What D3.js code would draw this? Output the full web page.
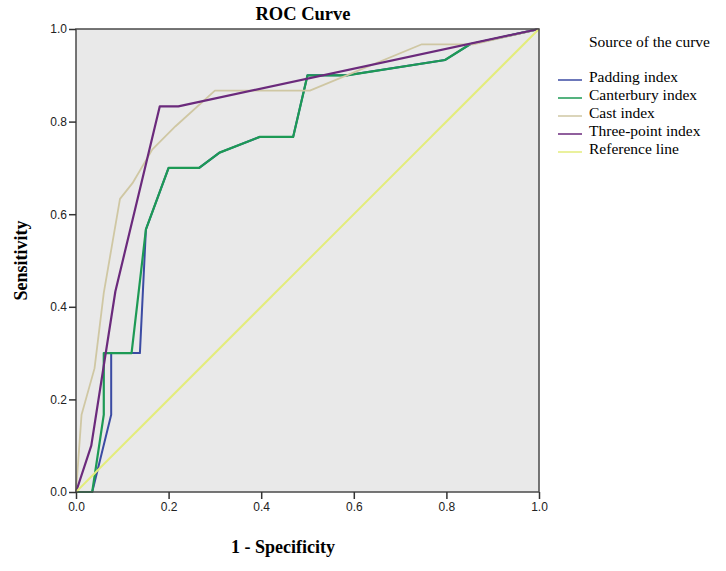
<!DOCTYPE html>
<html>
<head>
<meta charset="utf-8">
<script src="https://cdn.jsdelivr.net/npm/d3@7"></script>
<style>
  body { margin: 0; background: #fff; }
  svg { display: block; }
</style>
</head>
<body>
<svg id="chart"></svg>
<script>
// ROC points, [1 - specificity, sensitivity]
const paddingIndex = [[0, 0], [0.035, 0], [0.076, 0.167], [0.076, 0.3], [0.138, 0.3], [0.151, 0.567],
  [0.2, 0.7], [0.266, 0.7], [0.31, 0.733], [0.397, 0.767], [0.469, 0.767], [0.5, 0.9], [0.585, 0.9],
  [0.797, 0.933], [0.851, 0.967], [1, 1]];
const canterburyIndex = [[0, 0], [0.035, 0], [0.06, 0.167], [0.06, 0.3], [0.12, 0.3], [0.151, 0.567],
  [0.2, 0.7], [0.266, 0.7], [0.31, 0.733], [0.397, 0.767], [0.469, 0.767], [0.5, 0.9], [0.585, 0.9],
  [0.797, 0.933], [0.851, 0.967], [1, 1]];
const castIndex = [[0, 0], [0.012, 0.167], [0.04, 0.267], [0.06, 0.43], [0.095, 0.633], [0.122, 0.667],
  [0.165, 0.74], [0.215, 0.79], [0.3, 0.867], [0.505, 0.867], [0.747, 0.967], [0.858, 0.967], [1, 1]];
const threePointIndex = [[0, 0], [0.033, 0.1], [0.085, 0.433], [0.181, 0.833], [0.221, 0.833], [1, 1]];
const referenceLine = [[0, 0], [1, 1]];

const seriesNames = ["Padding index", "Canterbury index", "Cast index", "Three-point index", "Reference line"];
const seriesColors = ["#3b4ba3", "#1d9a55", "#cfc7a3", "#6b2a7c", "#e3ec7c"];
const axisTicks = [0, 0.2, 0.4, 0.6, 0.8, 1.0];

class RocChart {
  margin = { top: 29, right: 187, bottom: 79, left: 76 }

  constructor(svg, width = 463, height = 463) {
    this.svg = svg;
    this.width = width;
    this.height = height;
  }

  initialize() {
    this.svg = d3.select(this.svg)
      .attr("width", 726)
      .attr("height", 571);
    this.container = this.svg.append("g")
      .attr("transform", `translate(${this.margin.left}, ${this.margin.top})`);
    this.xScale = d3.scaleLinear().domain([0, 1]).range([0, this.width]);
    this.yScale = d3.scaleLinear().domain([0, 1]).range([this.height, 0]);
  }

  update(series) {
    const serif = "'Liberation Serif', 'DejaVu Serif', serif";

    this.container.append("rect")
      .attr("width", this.width)
      .attr("height", this.height)
      .attr("fill", "#e9e9e9");

    const line = d3.line()
      .x(d => this.xScale(d[0]))
      .y(d => this.yScale(d[1]));

    this.container.selectAll("path.curve")
      .data(series)
      .join("path")
      .attr("class", "curve")
      .attr("d", d => line(d.values))
      .attr("fill", "none")
      .attr("stroke", d => d.color)
      .attr("stroke-width", d => d.width)
      .attr("stroke-linejoin", "round");

    this.container.append("rect")
      .attr("width", this.width)
      .attr("height", this.height)
      .attr("fill", "none")
      .attr("stroke", "#4a4a4a")
      .attr("stroke-width", 1.5);

    const xAxis = this.container.append("g")
      .attr("transform", `translate(0, ${this.height})`)
      .call(d3.axisBottom(this.xScale).tickValues(axisTicks).tickFormat(d3.format(".1f"))
        .tickSize(7).tickPadding(3));
    const yAxis = this.container.append("g")
      .call(d3.axisLeft(this.yScale).tickValues(axisTicks).tickFormat(d3.format(".1f"))
        .tickSize(7).tickPadding(2));
    [xAxis, yAxis].forEach(a => {
      a.select(".domain").remove();
      a.selectAll("line").attr("stroke", "#333").attr("stroke-width", 1.5);
      a.selectAll("text")
        .attr("fill", "#222")
        .style("font-family", "'Liberation Sans', Arial, sans-serif")
        .style("font-size", "12px");
    });

    this.svg.append("text")
      .attr("x", 303)
      .attr("y", 20)
      .attr("text-anchor", "middle")
      .style("font-family", serif)
      .style("font-size", "18.5px")
      .style("font-weight", "bold")
      .text("ROC Curve");

    this.svg.append("text")
      .attr("x", 283)
      .attr("y", 553)
      .attr("text-anchor", "middle")
      .style("font-family", serif)
      .style("font-size", "18px")
      .style("font-weight", "bold")
      .text("1 - Specificity");

    this.svg.append("text")
      .attr("transform", `translate(27, ${this.margin.top + this.height / 2}) rotate(-90)`)
      .attr("text-anchor", "middle")
      .style("font-family", serif)
      .style("font-size", "18px")
      .style("font-weight", "bold")
      .text("Sensitivity");

    // legend
    this.legend = this.svg.append("g").attr("transform", "translate(558, 0)");
    this.legend.append("text")
      .attr("x", 31)
      .attr("y", 47)
      .style("font-family", serif)
      .style("font-size", "15.5px")
      .text("Source of the curve");

    const items = this.legend.selectAll("g.item")
      .data(series)
      .join("g")
      .attr("class", "item")
      .attr("transform", (d, i) => `translate(0, ${77 + i * 18})`);
    items.append("line")
      .attr("x1", 0).attr("x2", 24)
      .attr("y1", 3).attr("y2", 3)
      .attr("stroke", d => d.color)
      .attr("stroke-width", 1.5);
    items.append("text")
      .attr("x", 31)
      .attr("y", 5)
      .style("font-family", serif)
      .style("font-size", "15.5px")
      .text(d => d.name);
  }
}

const allValues = [paddingIndex, canterburyIndex, castIndex, threePointIndex, referenceLine];
const lineWidths = [2, 2.2, 1.8, 2.2, 2];
const series = seriesNames.map((name, i) => ({
  name, color: seriesColors[i], values: allValues[i], width: lineWidths[i]
}));

const chart = new RocChart(document.getElementById("chart"));
chart.initialize();
chart.update(series);
</script>
</body>
</html>
